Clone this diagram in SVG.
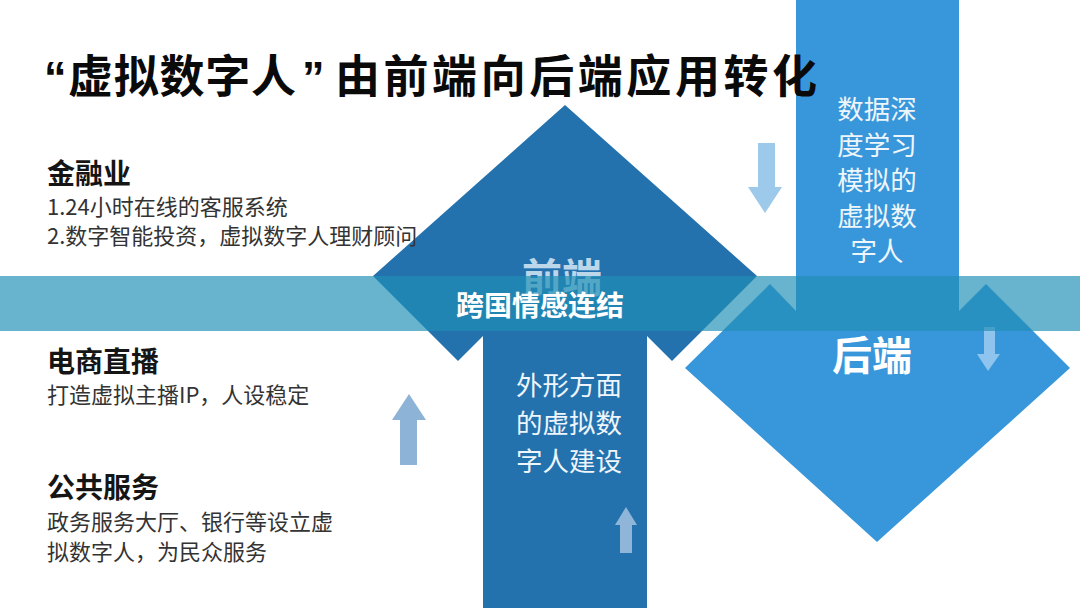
<svg xmlns="http://www.w3.org/2000/svg" width="1080" height="608" viewBox="0 0 1080 608">
<style>
.cjk{font-family:"Noto Sans CJK SC","Noto Sans",sans-serif}
.lat{font-family:"Liberation Sans","DejaVu Sans",sans-serif}
.h{font-size:28px;font-weight:700;fill:#151515}
.b{font-size:22px;fill:#333}
.w{font-size:26.5px;fill:#eef5fb;text-anchor:middle}
.big{font-size:40px;font-weight:700;text-anchor:middle}
.t{font-size:45px;font-weight:700;fill:#0a0a0a}
</style>
<rect width="1080" height="608" fill="#fff"/>
<g id="connectors">
<g id="up-arrow">
<polygon points="565,105 757,276 672,361 647,336 647,608 483,608 483,336 458,361 373,276" fill="#2372ae"/>
</g>
<g id="down-arrow">
<polygon points="796,0 959,0 959,311 986,284 1070,368 877,542 685,368 770,284 796,311" fill="#3897da"/>
</g>
<g id="small-arrows">
<polygon points="758,143 775,143 775,187 782,187 765,213 748,187 758,187" fill="#9dc9eb"/>
<polygon points="984,327 995,327 995,354 1000,354 988,371 977,354 984,354" fill="#8fc4ee"/>
<polygon points="409,394 426,420 417,420 417,465 400,465 400,420 392,420" fill="#8db4d7"/>
<polygon points="626,507 637,525 632,525 632,553 620,553 620,525 615,525" fill="#8fb5d8"/>
</g>
</g>
<g id="label-front">
<text class="cjk big" x="562" y="292" fill="#bcd6ea">前端</text>
</g>
<g id="title">
<text class="lat t" x="44" y="93">“</text>
<text class="cjk t" x="68" y="93" textLength="228" lengthAdjust="spacing">虚拟数字人</text>
<text class="lat t" x="302" y="93">”</text>
<text class="cjk t" x="335" y="93" textLength="482" lengthAdjust="spacing">由前端向后端应用转化</text>
</g>
<g id="node-finance">
<text class="cjk h" x="47" y="184">金融业</text>
<text class="cjk b" x="47" y="215">1.24小时在线的客服系统</text>
<text class="cjk b" x="47" y="244">2.数字智能投资，虚拟数字人理财顾问</text>
</g>
<g id="node-ecommerce">
<text class="cjk h" x="47" y="372">电商直播</text>
<text class="cjk b" x="47" y="403">打造虚拟主播IP，人设稳定</text>
</g>
<g id="node-public">
<text class="cjk h" x="47" y="498">公共服务</text>
<text class="cjk b" x="47" y="530">政务服务大厅、银行等设立虚</text>
<text class="cjk b" x="47" y="560">拟数字人，为民众服务</text>
</g>
<g id="node-backend-text">
<text class="cjk w" x="877" y="119">数据深</text>
<text class="cjk w" x="877" y="155">度学习</text>
<text class="cjk w" x="877" y="190">模拟的</text>
<text class="cjk w" x="877" y="226">虚拟数</text>
<text class="cjk w" x="877" y="261">字人</text>
</g>
<g id="node-frontend-text">
<text class="cjk w" x="569" y="395">外形方面</text>
<text class="cjk w" x="569" y="433">的虚拟数</text>
<text class="cjk w" x="569" y="471">字人建设</text>
</g>
<g id="banner">
<rect x="0" y="276" width="1080" height="55" fill="#218fb6" fill-opacity="0.68"/>
<text class="cjk" x="540" y="316" font-size="28" font-weight="700" fill="#fff" text-anchor="middle">跨国情感连结</text>
</g>
<g id="label-back">
<text class="cjk big" x="872" y="370" fill="#fff">后端</text>
</g>
</svg>
